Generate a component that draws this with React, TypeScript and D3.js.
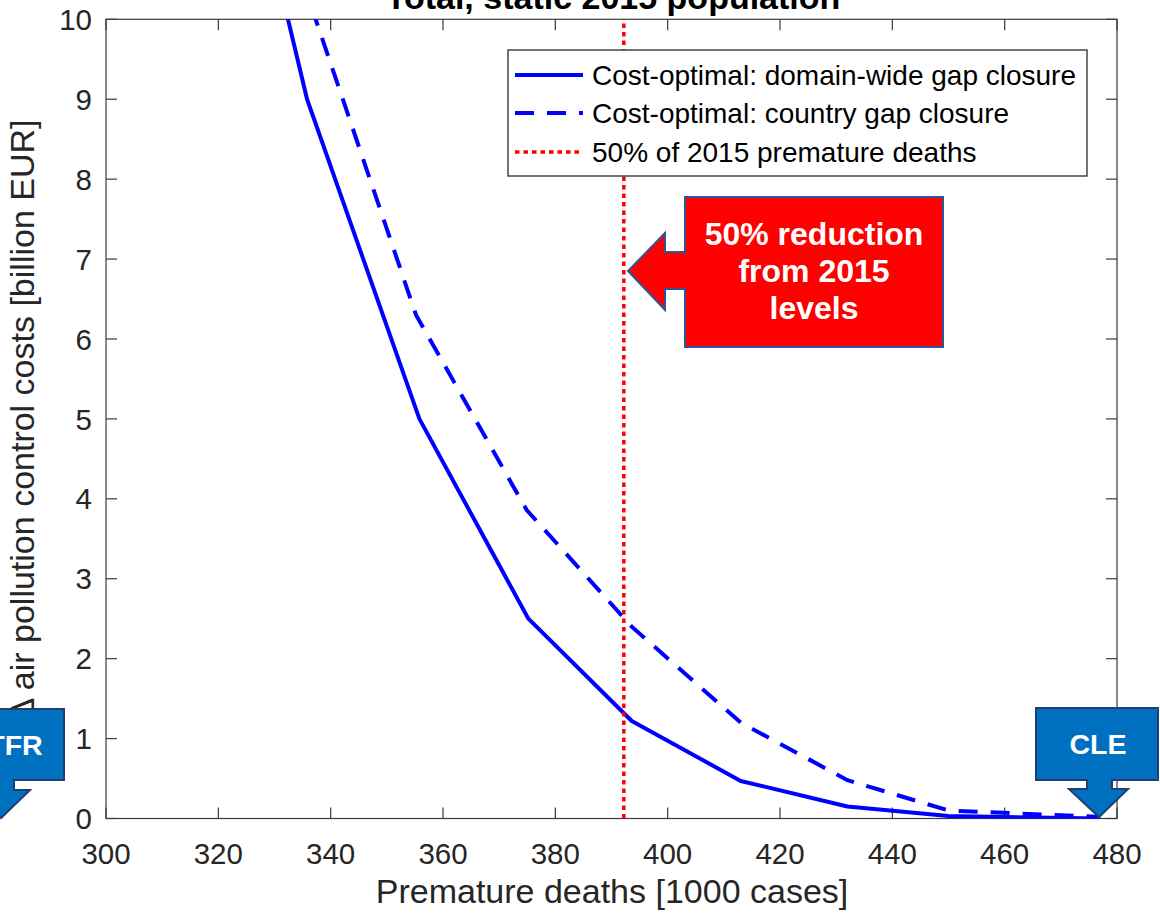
import React from "react";
import * as d3 from "d3";

const W = 1160;
const H = 913;

// Data
const solidX = [325.6, 335.8, 355.8, 375.2, 393.6, 413, 432, 450, 477];
const solidY = [12, 9.0, 5.0, 2.5, 1.22, 0.47, 0.15, 0.03, 0.0];
const dashedX = [332.5, 355.2, 374.9, 393.6, 413, 432, 450, 477];
const dashedY = [11, 6.3, 3.86, 2.4, 1.2, 0.48, 0.1, 0.02];
const targetX = 392.2;

const xTicks = [300, 320, 340, 360, 380, 400, 420, 440, 460, 480];
const yTicks = [0, 1, 2, 3, 4, 5, 6, 7, 8, 9, 10];

const legendLabels = [
  "Cost-optimal: domain-wide gap closure",
  "Cost-optimal: country gap closure",
  "50% of 2015 premature deaths",
];

const FONT = "'Liberation Sans', Arial, Helvetica, sans-serif";

export default function App() {
  const x = d3.scaleLinear().domain([300, 480]).range([106, 1117]);
  const y = d3.scaleLinear().domain([0, 10]).range([818.5, 19.3]);
  const [x0, x1] = x.range();
  const [y0, y1] = y.range();
  const tickLen = 11;
  const axisColor = "#3a3a3a";

  const line = d3
    .line<[number, number]>()
    .x((d) => x(d[0]))
    .y((d) => y(d[1]));
  const solidPts = solidX.map((v, i) => [v, solidY[i]] as [number, number]);
  const dashedPts = dashedX.map((v, i) => [v, dashedY[i]] as [number, number]);

  const legend = { x: 508, y: 50, w: 579, h: 126 };
  const rowY = [75, 113, 152];

  const redCallout = [
    [685, 197], [943, 197], [943, 347], [685, 347], [685, 289], [665, 289],
    [665, 310], [628, 271], [665, 233], [665, 252], [685, 252],
  ];
  const cleCallout = [
    [1036, 708], [1158, 708], [1158, 780], [1112, 780], [1112, 789], [1128, 789],
    [1099, 817], [1069, 789], [1087, 789], [1087, 780], [1036, 780],
  ];
  const tfrCallout = [
    [-60, 709], [64, 709], [64, 780], [14, 780], [14, 790], [30, 790],
    [1, 818], [-28, 790], [-10, 790], [-10, 780], [-60, 780],
  ];
  const pts = (a: number[][]) => a.map((p) => p.join(",")).join(" ");

  return (
    <svg
      width={W}
      height={H}
      style={{ position: "absolute", left: 0, top: 0, background: "#fff" }}
      fontFamily={FONT}
    >
      <defs>
        <clipPath id="plotClip">
          <rect x={x0} y={y1} width={x1 - x0} height={y0 - y1} />
        </clipPath>
      </defs>
      <rect x={0} y={0} width={W} height={H} fill="#fff" />

      {/* Title (partly cut off at the top, as in the reference) */}
      <text x={613} y={9} textAnchor="middle" fontWeight="bold" fontSize={34} fill="#000">
        Total, static 2015 population
      </text>

      {/* Axes box */}
      <rect x={x0} y={y1} width={x1 - x0} height={y0 - y1} fill="none" stroke={axisColor} strokeWidth={1.2} />
      {xTicks.map((t) => (
        <g key={"xt" + t}>
          <line x1={x(t)} x2={x(t)} y1={y0} y2={y0 - tickLen} stroke={axisColor} strokeWidth={1.2} />
          <line x1={x(t)} x2={x(t)} y1={y1} y2={y1 + tickLen} stroke={axisColor} strokeWidth={1.2} />
          <text x={x(t)} y={864} textAnchor="middle" fontSize={29.5} fill="#262626">
            {t}
          </text>
        </g>
      ))}
      {yTicks.map((t) => (
        <g key={"yt" + t}>
          <line x1={x0} x2={x0 + tickLen} y1={y(t)} y2={y(t)} stroke={axisColor} strokeWidth={1.2} />
          <line x1={x1} x2={x1 - tickLen} y1={y(t)} y2={y(t)} stroke={axisColor} strokeWidth={1.2} />
          <text x={92} y={y(t)} dy="0.36em" textAnchor="end" fontSize={29.5} fill="#262626">
            {t}
          </text>
        </g>
      ))}

      {/* Axis labels */}
      <text x={612} y={903} textAnchor="middle" fontSize={34} fill="#262626">
        Premature deaths [1000 cases]
      </text>
      <text
        transform={`translate(34,420) rotate(-90)`}
        textAnchor="middle"
        fontSize={34}
        fill="#262626"
      >
        Δ air pollution control costs [billion EUR]
      </text>

      {/* Data lines */}
      <g clipPath="url(#plotClip)">
        <path d={line(solidPts) || ""} fill="none" stroke="#0000ff" strokeWidth={4} strokeLinejoin="round" />
        <path d={line(dashedPts) || ""} fill="none" stroke="#0000ff" strokeWidth={4} strokeDasharray="19,13" strokeDashoffset={-8} />
        <line
          x1={x(targetX)}
          x2={x(targetX)}
          y1={y(0)}
          y2={y(10)}
          stroke="#ff0000"
          strokeWidth={3.5}
          strokeDasharray="4.5,4"
        />
      </g>

      {/* Legend */}
      <rect x={legend.x} y={legend.y} width={legend.w} height={legend.h} fill="#fff" stroke={axisColor} strokeWidth={1.4} />
      <line x1={515} x2={583} y1={rowY[0]} y2={rowY[0]} stroke="#0000ff" strokeWidth={4} />
      <line x1={515} x2={583} y1={rowY[1]} y2={rowY[1]} stroke="#0000ff" strokeWidth={4} strokeDasharray="19,13" />
      <line x1={515} x2={583} y1={rowY[2]} y2={rowY[2]} stroke="#ff0000" strokeWidth={3.5} strokeDasharray="4.5,4" />
      {legendLabels.map((l, i) => (
        <text key={l} x={592} y={rowY[i]} dy="0.36em" fontSize={28} fill="#000">
          {l}
        </text>
      ))}

      {/* Red callout */}
      <polygon points={pts(redCallout)} fill="#ff0000" stroke="#2f5597" strokeWidth={2} />
      {["50% reduction", "from 2015", "levels"].map((s, i) => (
        <text key={s} x={814} y={245 + i * 37} textAnchor="middle" fontSize={32} fontWeight="bold" fill="#fff">
          {s}
        </text>
      ))}

      {/* CLE callout */}
      <polygon points={pts(cleCallout)} fill="#0070c0" stroke="#1f3f73" strokeWidth={2} />
      <text x={1098} y={754} textAnchor="middle" fontSize={28.5} fontWeight="bold" fill="#fff">
        CLE
      </text>

      {/* TFR callout */}
      <polygon points={pts(tfrCallout)} fill="#0070c0" stroke="#1f3f73" strokeWidth={2} />
      <text x={15} y={755} textAnchor="middle" fontSize={28.5} fontWeight="bold" fill="#fff">
        TFR
      </text>
    </svg>
  );
}
